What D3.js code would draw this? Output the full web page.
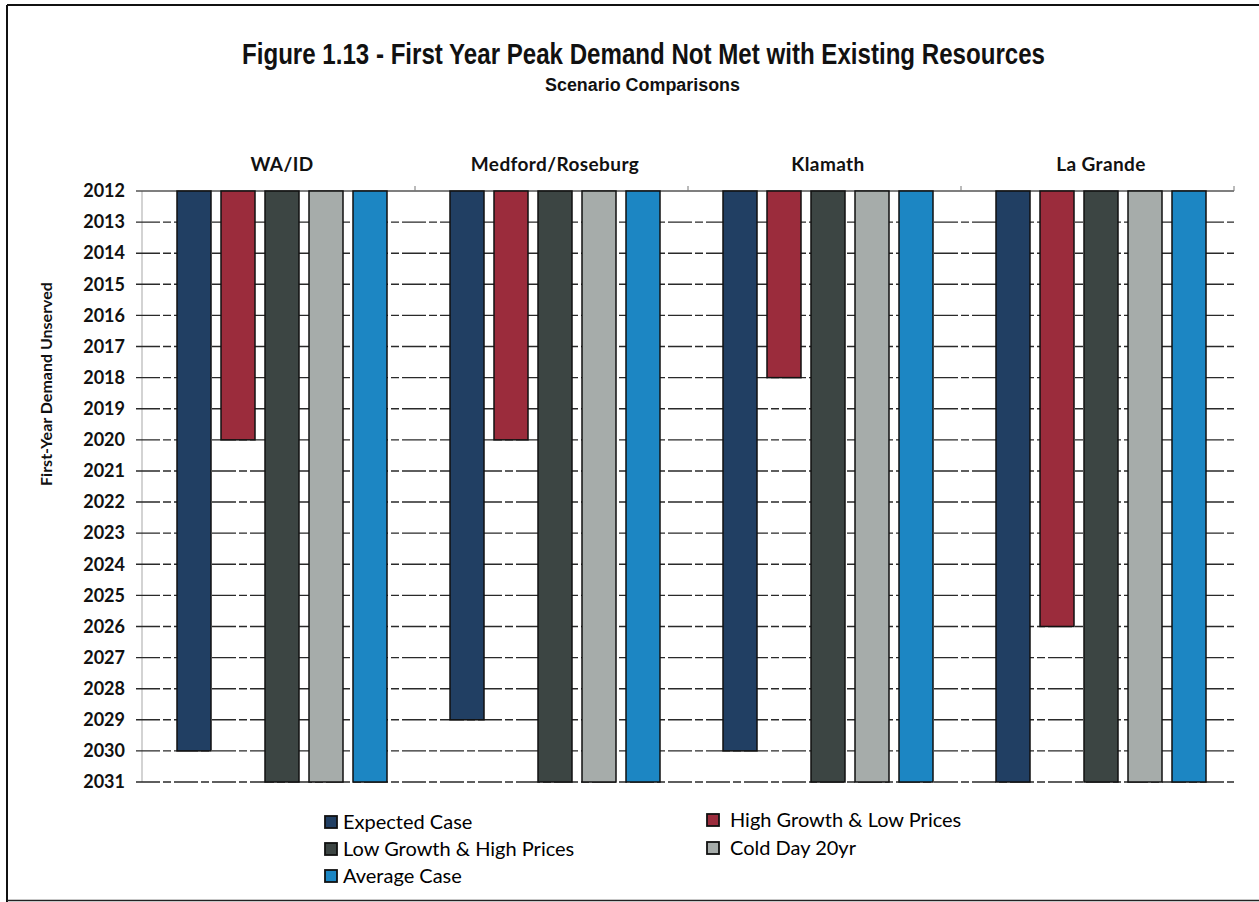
<!DOCTYPE html>
<html>
<head>
<meta charset="utf-8">
<script src="https://cdn.jsdelivr.net/npm/d3@7"></script>
<style>
  html, body { margin: 0; padding: 0; background: #fff; }
  svg { display: block; }
</style>
</head>
<body>
<svg id="chart" width="1259" height="902"></svg>
<script>
// ---- Data ----
const regions = ["WA/ID", "Medford/Roseburg", "Klamath", "La Grande"];
const seriesNames = ["Expected Case", "High Growth & Low Prices", "Low Growth & High Prices", "Cold Day 20yr", "Average Case"];
const seriesColors = ["#213f63", "#9b2c3c", "#3c4543", "#a6acaa", "#1c86c3"];
// first year of demand unserved, per region, per series
const expectedCase   = [2030, 2029, 2030, 2031];
const highGrowth     = [2020, 2020, 2018, 2026];
const lowGrowth      = [2031, 2031, 2031, 2031];
const coldDay20yr    = [2031, 2031, 2031, 2031];
const averageCase    = [2031, 2031, 2031, 2031];
const yearTicks = d3.range(2012, 2032);
const baseYear = 2012;

const seriesValues = [expectedCase, highGrowth, lowGrowth, coldDay20yr, averageCase];

// ---- Layout ----
const svg = d3.select("#chart");
const W = 1259, H = 902;
const plot = { left: 142, right: 1234, top: 191, bottom: 782 };

// frame
svg.append("line").attr("x1", 7).attr("x2", 7).attr("y1", 5).attr("y2", H).attr("stroke", "#111").attr("stroke-width", 2);
svg.append("line").attr("x1", 7).attr("x2", W).attr("y1", 5).attr("y2", 5).attr("stroke", "#111").attr("stroke-width", 2);
svg.append("line").attr("x1", 7).attr("x2", W).attr("y1", 900.5).attr("y2", 900.5).attr("stroke", "#222").attr("stroke-width", 1.5);

// title
svg.append("text")
  .attr("x", 242).attr("y", 64)
  .attr("textLength", 803).attr("lengthAdjust", "spacingAndGlyphs")
  .style("font-family", "'Liberation Sans Narrow', 'Arial Narrow', sans-serif")
  .style("font-weight", "bold").style("font-size", "29px").attr("fill", "#111")
  .text("Figure 1.13 - First Year Peak Demand Not Met with Existing Resources");
svg.append("text")
  .attr("x", 545).attr("y", 91)
  .attr("textLength", 195).attr("lengthAdjust", "spacingAndGlyphs")
  .style("font-family", "'Liberation Sans Narrow', 'Arial Narrow', sans-serif")
  .style("font-weight", "bold").style("font-size", "18px").attr("fill", "#111")
  .text("Scenario Comparisons");

// scales
const y = d3.scaleLinear().domain([2012, 2031]).range([plot.top, plot.bottom]);
const x0 = d3.scaleBand().domain(regions).range([plot.left, plot.right]).padding(0);
const x1 = d3.scaleBand().domain(seriesNames).range([30, 250]).paddingInner(10 / 44).paddingOuter(5 / 44);

// left axis line
svg.append("line").attr("x1", plot.left).attr("x2", plot.left).attr("y1", plot.top).attr("y2", plot.bottom)
  .attr("stroke", "#c4c4c4").attr("stroke-width", 1.5);

// gridlines
const grid = svg.append("g");
grid.selectAll("line").data(yearTicks).join("line")
  .attr("x1", plot.left - 6).attr("x2", plot.right)
  .attr("y1", d => y(d)).attr("y2", d => y(d))
  .attr("stroke", d => d === 2012 ? "#555" : "#2a2a2a")
  .attr("stroke-width", 1.4)
  .attr("stroke-dasharray", d => (d === 2012 ? null : "24,3,8,3"));

// top category ticks (group boundaries)
svg.append("g").selectAll("line").data(regions.slice(1).concat(["end"])).join("line")
  .attr("x1", d => d === "end" ? plot.right : x0(d))
  .attr("x2", d => d === "end" ? plot.right : x0(d))
  .attr("y1", plot.top).attr("y2", plot.top - 5)
  .attr("stroke", "#777").attr("stroke-width", 1);

// y tick labels
const yAxis = svg.append("g")
  .attr("transform", `translate(${plot.left},0)`)
  .call(d3.axisLeft(y).tickValues(yearTicks).tickFormat(d3.format("d")).tickSize(0).tickPadding(17));
yAxis.select(".domain").remove();
yAxis.selectAll("text")
  .style("font-family", "Lato, 'Open Sans', sans-serif")
  .style("font-weight", "bold").style("font-size", "18px").attr("fill", "#111");

// y axis title
svg.append("text")
  .attr("transform", `translate(52, 384) rotate(-90)`)
  .attr("text-anchor", "middle")
  .style("font-family", "Lato, 'Open Sans', sans-serif")
  .style("font-weight", "bold").style("font-size", "16px").attr("fill", "#111")
  .text("First-Year Demand Unserved");

// group labels
svg.append("g").selectAll("text").data(regions).join("text")
  .attr("x", d => x0(d) + 140).attr("y", 171)
  .attr("text-anchor", "middle")
  .style("font-family", "Lato, 'Open Sans', sans-serif")
  .style("font-weight", "bold").style("font-size", "19px")
  .style("letter-spacing", "0.4px").attr("fill", "#111")
  .text(d => d);

// bars
const barData = [];
regions.forEach((r, ri) => {
  seriesNames.forEach((s, si) => {
    barData.push({ region: r, series: s, color: seriesColors[si], value: seriesValues[si][ri] });
  });
});
svg.append("g").selectAll("rect").data(barData).join("rect")
  .attr("x", d => x0(d.region) + x1(d.series))
  .attr("width", x1.bandwidth())
  .attr("y", y(baseYear))
  .attr("height", d => y(d.value) - y(baseYear))
  .attr("fill", d => d.color)
  .attr("stroke", "#111").attr("stroke-width", 1.5);

// legend
const legendPos = [
  { x: 325, y: 822, tx: 343 }, { x: 707, y: 820, tx: 730 },
  { x: 325, y: 849, tx: 343 }, { x: 707, y: 848, tx: 730 },
  { x: 325, y: 876, tx: 343 }
];
const legend = svg.append("g");
seriesNames.forEach((s, i) => {
  const p = legendPos[i];
  legend.append("rect")
    .attr("x", p.x).attr("y", p.y - 6).attr("width", 12).attr("height", 12)
    .attr("fill", seriesColors[i]).attr("stroke", "#111").attr("stroke-width", 1.8);
  legend.append("text")
    .attr("x", p.tx).attr("y", p.y).attr("dy", "0.35em")
    .style("font-family", "Lato, 'Open Sans', sans-serif")
    .style("font-size", "20px").attr("fill", "#000")
    .text(s);
});
</script>
</body>
</html>
